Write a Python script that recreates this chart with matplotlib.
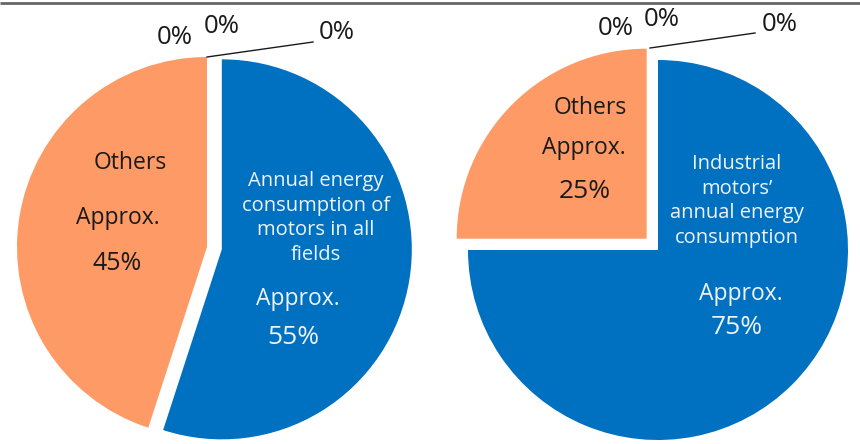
import matplotlib.pyplot as plt

plt.rcParams['font.family'] = ['Open Sans', 'DejaVu Sans']

# share of annual energy consumption (%), clockwise from 12 o'clock
left_names = ["Motors in all fields", "z1", "z2", "z3", "Others"]
left_values = [55, 0, 0, 0, 45]
right_names = ["Industrial motors", "z1", "z2", "z3", "Others"]
right_values = [75, 0, 0, 0, 25]

left_caption = "Annual energy\nconsumption of\nmotors in all\nfields"
right_caption = "Industrial\nmotors\u2019\nannual energy\nconsumption"

BLUE = "#0070C0"
ORANGE = "#FE9A66"
W, H = 860, 444

fig = plt.figure(figsize=(8.6, 4.44), dpi=100)
ax = fig.add_axes([0, 0, 1, 1])


def py(y):
    # pixel row (from top) -> data y
    return H - y


ax.pie(left_values, colors=[BLUE, BLUE, BLUE, BLUE, ORANGE],
       startangle=90, counterclock=False, radius=190,
       center=(207, py(247)), explode=[15, 0, 0, 0, 0], frame=True,
       wedgeprops=dict(linewidth=0))
ax.pie(right_values, colors=[BLUE, BLUE, BLUE, BLUE, ORANGE],
       startangle=90, counterclock=False, radius=190,
       center=(658, py(250)), explode=[0, 0, 0, 0, 16], frame=True,
       wedgeprops=dict(linewidth=0))
ax.set_xlim(0, W)
ax.set_ylim(0, H)
ax.set_aspect("auto")
ax.axis("off")

# frame line along the top
ax.plot([0, W], [py(3.5), py(3.5)], color="#666666", lw=2, solid_capstyle="butt")

dark = "#1a1a1a"
light = "#eef4fa"
big = 16.5
pct = 19
small = 14.5
zero = 18.5

# left pie
ax.text(130, py(163), "Others", ha="center", va="center", fontsize=big, color=dark)
ax.text(118, py(218), "Approx.", ha="center", va="center", fontsize=big, color=dark)
ax.text(117, py(264), f"{left_values[4]}%", ha="center", va="center", fontsize=pct - 1, color=dark)
ax.text(316, py(218), left_caption, ha="center", va="center", fontsize=small,
        color=light, linespacing=1.33)
ax.text(298, py(299), "Approx.", ha="center", va="center", fontsize=big, color=light)
ax.text(293, py(338), f"{left_values[0]}%", ha="center", va="center", fontsize=pct, color=light)

# right pie
ax.text(590, py(108), "Others", ha="center", va="center", fontsize=big, color=dark)
ax.text(584, py(148), "Approx.", ha="center", va="center", fontsize=big, color=dark)
ax.text(585, py(192), f"{right_values[4]}%", ha="center", va="center", fontsize=pct, color=dark)
ax.text(737, py(201), right_caption, ha="center", va="center", fontsize=small,
        color=light, linespacing=1.33)
ax.text(741, py(294), "Approx.", ha="center", va="center", fontsize=big, color=light)
ax.text(737, py(327), f"{right_values[0]}%", ha="center", va="center", fontsize=pct, color=light)

# labels of the empty slices at 12 o'clock
for vals, spots, line in [
    (left_values, [(175, 38), (222, 27), (337, 33)], [(207, 57), (313, 42)]),
    (right_values, [(616, 29), (662, 20), (780, 25)], [(650, 48), (755, 33)]),
]:
    for v, (x, y) in zip(vals[1:4], spots):
        ax.text(x, py(y), f"{v}%", ha="center", va="center", fontsize=zero, color=dark)
    ax.plot([line[0][0], line[1][0]], [py(line[0][1]), py(line[1][1])],
            color=dark, lw=1)

fig.savefig("out.png", dpi=100)
